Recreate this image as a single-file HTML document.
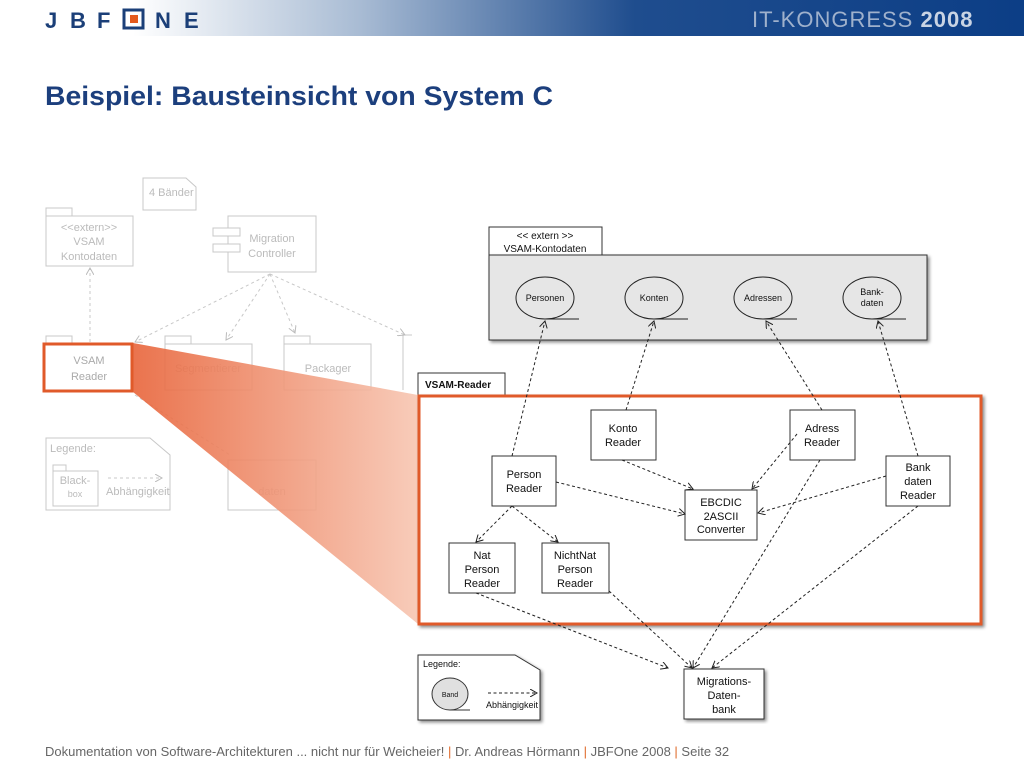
<!DOCTYPE html>
<html><head><meta charset="utf-8"><style>
body{margin:0;width:1024px;height:768px;background:#fff;overflow:hidden;font-family:"Liberation Sans",Arial,sans-serif;position:relative}
</style></head><body>
<svg width="1024" height="768" viewBox="0 0 1024 768" xmlns="http://www.w3.org/2000/svg" style="position:absolute;left:0;top:0;font-family:'Liberation Sans',Arial,sans-serif">
<defs>
<linearGradient id="hdr" x1="0" x2="1" y1="0" y2="0">
<stop offset="0" stop-color="#fff"/><stop offset="0.13" stop-color="#fff"/><stop offset="0.35" stop-color="#a9bcd4"/><stop offset="0.62" stop-color="#1f4d8e"/><stop offset="1" stop-color="#0c3e86"/>
</linearGradient>
<linearGradient id="fan" x1="0" x2="1" y1="0" y2="0">
<stop offset="0" stop-color="#e8643a"/><stop offset="1" stop-color="#f7c6b2"/>
</linearGradient>
<marker id="ar" markerWidth="8" markerHeight="8" refX="7" refY="4" orient="auto" markerUnits="userSpaceOnUse"><path d="M0,0 L7,4 L0,8" fill="none" stroke="#222" stroke-width="1"/></marker>
<marker id="arg" markerWidth="8" markerHeight="8" refX="7" refY="4" orient="auto" markerUnits="userSpaceOnUse"><path d="M0,0 L7,4 L0,8" fill="none" stroke="#bbb" stroke-width="1"/></marker>
<filter id="sh"><feDropShadow dx="2" dy="2" stdDeviation="1.5" flood-color="#000" flood-opacity="0.45"/></filter>
</defs>
<rect x="0" y="0" width="1024" height="36" fill="url(#hdr)"/>
<g font-size="22" font-weight="bold" fill="#1b3f78">
<text x="45" y="28">J</text><text x="70" y="28">B</text><text x="97" y="28">F</text>
<text x="155" y="28">N</text><text x="184" y="28">E</text>
</g>
<rect x="124" y="10" width="19" height="18" fill="none" stroke="#1b3f78" stroke-width="3"/><rect x="130" y="15" width="8" height="8" fill="#e55a1c"/>
<text x="752" y="27" font-size="22" fill="#9fb1cc" letter-spacing="1">IT-KONGRESS <tspan font-weight="bold" fill="#c9d4e4">2008</tspan></text>
<text x="45" y="105" font-size="27" font-weight="bold" fill="#1c3f7d" textLength="508" lengthAdjust="spacingAndGlyphs">Beispiel: Bausteinsicht von System C</text>

<!-- faded left diagram -->
<g stroke="#c8c8c8" fill="#fff" font-size="11" stroke-width="1">
<path d="M143,178 H186 L196,187 V210 H143 Z"/><text x="149" y="196" fill="#bbb" stroke="none">4 Bänder</text>
<rect x="46" y="208" width="26" height="8"/><rect x="46" y="216" width="87" height="50"/>
<text x="89" y="231" fill="#bbb" stroke="none" text-anchor="middle">&lt;&lt;extern&gt;&gt;</text>
<text x="89" y="245" fill="#bbb" stroke="none" text-anchor="middle">VSAM</text>
<text x="89" y="260" fill="#bbb" stroke="none" text-anchor="middle">Kontodaten</text>
<rect x="228" y="216" width="88" height="56"/><rect x="213" y="228" width="27" height="8"/><rect x="213" y="244" width="27" height="8"/>
<text x="272" y="242" fill="#bbb" stroke="none" text-anchor="middle">Migration</text>
<text x="272" y="257" fill="#bbb" stroke="none" text-anchor="middle">Controller</text>
<rect x="165" y="336" width="26" height="8"/><rect x="165" y="344" width="87" height="46"/><text x="208" y="372" fill="#bbb" stroke="none" text-anchor="middle">Segmentierer</text>
<rect x="284" y="336" width="26" height="8"/><rect x="284" y="344" width="87" height="46"/><text x="328" y="372" fill="#bbb" stroke="none" text-anchor="middle">Packager</text>
<path d="M403,335 H412 M403,335 V390"/>
<rect x="46" y="336" width="26" height="8"/>
<rect x="228" y="460" width="88" height="50"/><text x="272" y="495" fill="#bbb" stroke="none" text-anchor="middle">daten</text>
<path d="M46,438 H150 L170,455 V510 H46 Z"/><text x="50" y="452" fill="#bbb" stroke="none">Legende:</text>
<rect x="53" y="465" width="13" height="6"/><rect x="53" y="471" width="45" height="35"/>
<text x="75" y="484" fill="#bbb" stroke="none" text-anchor="middle">Black-</text><text x="75" y="497" fill="#bbb" stroke="none" text-anchor="middle" font-size="9">box</text>
<text x="106" y="495" fill="#bbb" stroke="none">Abhängigkeit</text>
<g stroke-dasharray="3,3" fill="none">
<line x1="108" y1="478" x2="162" y2="478" marker-end="url(#arg)"/>
<line x1="90" y1="342" x2="90" y2="268" marker-end="url(#arg)"/>
<line x1="270" y1="274" x2="135" y2="342" marker-end="url(#arg)"/>
<line x1="270" y1="274" x2="226" y2="340" marker-end="url(#arg)"/>
<line x1="270" y1="274" x2="295" y2="333" marker-end="url(#arg)"/>
<line x1="270" y1="274" x2="405" y2="335" marker-end="url(#arg)"/>
<line x1="135" y1="395" x2="230" y2="455"/>
</g>
</g>
<polygon points="133,343 418,395 418,624 133,392" fill="url(#fan)" opacity="0.9"/>
<rect x="44" y="344" width="88" height="47" fill="#fff" stroke="#e05a2a" stroke-width="3"/>
<text x="89" y="364" font-size="11" fill="#aaa" text-anchor="middle">VSAM</text>
<text x="89" y="380" font-size="11" fill="#aaa" text-anchor="middle">Reader</text>

<!-- right diagram -->
<g font-size="10" fill="#111">
<rect x="489" y="227" width="113" height="28" fill="#fff" stroke="#333"/>
<text x="545" y="239" text-anchor="middle">&lt;&lt; extern &gt;&gt;</text>
<text x="545" y="252" text-anchor="middle">VSAM-Kontodaten</text>
<rect x="489" y="255" width="438" height="85" fill="#e6e6e6" stroke="#333" filter="url(#sh)"/>
<g stroke="#222" fill="none">
<ellipse cx="545" cy="298" rx="29" ry="21"/><line x1="545" y1="319" x2="579" y2="319"/>
<ellipse cx="654" cy="298" rx="29" ry="21"/><line x1="654" y1="319" x2="688" y2="319"/>
<ellipse cx="763" cy="298" rx="29" ry="21"/><line x1="763" y1="319" x2="797" y2="319"/>
<ellipse cx="872" cy="298" rx="29" ry="21"/><line x1="872" y1="319" x2="906" y2="319"/>
</g>
<text x="545" y="301" text-anchor="middle" font-size="9">Personen</text>
<text x="654" y="301" text-anchor="middle" font-size="9">Konten</text>
<text x="763" y="301" text-anchor="middle" font-size="9">Adressen</text>
<text x="872" y="295" text-anchor="middle" font-size="9">Bank-</text><text x="872" y="306" text-anchor="middle" font-size="9">daten</text>

<rect x="418" y="373" width="87" height="22" fill="#fff" stroke="#333"/>
<text x="425" y="388" font-weight="bold" font-size="10">VSAM-Reader</text>
<rect x="419" y="396" width="562" height="228" fill="#fff" stroke="#e05a2a" stroke-width="3" filter="url(#sh)"/>

<g fill="#fff" stroke="#333">
<rect x="591" y="410" width="65" height="50"/>
<rect x="790" y="410" width="65" height="50"/>
<rect x="492" y="456" width="64" height="50"/>
<rect x="886" y="456" width="64" height="50"/>
<rect x="685" y="490" width="72" height="50"/>
<rect x="449" y="543" width="66" height="50"/>
<rect x="542" y="543" width="67" height="50"/>
<rect x="684" y="669" width="80" height="50" filter="url(#sh)"/>
<path d="M418,655 H515 L540,670 V720 H418 Z" filter="url(#sh)"/>
</g>
<g font-size="11" text-anchor="middle">
<text x="623" y="432">Konto</text><text x="623" y="446">Reader</text>
<text x="822" y="432">Adress</text><text x="822" y="446">Reader</text>
<text x="524" y="478">Person</text><text x="524" y="492">Reader</text>
<text x="918" y="471">Bank</text><text x="918" y="485">daten</text><text x="918" y="499">Reader</text>
<text x="721" y="506">EBCDIC</text><text x="721" y="520">2ASCII</text><text x="721" y="533">Converter</text>
<text x="482" y="559">Nat</text><text x="482" y="573">Person</text><text x="482" y="587">Reader</text>
<text x="575" y="559">NichtNat</text><text x="575" y="573">Person</text><text x="575" y="587">Reader</text>
<text x="724" y="685">Migrations-</text><text x="724" y="699">Daten-</text><text x="724" y="713">bank</text>
</g>
<text x="423" y="667" font-size="9">Legende:</text>
<ellipse cx="450" cy="694" rx="18" ry="16" fill="#e0e0e0" stroke="#333"/><line x1="450" y1="710" x2="470" y2="710" stroke="#333"/>
<text x="450" y="697" font-size="7" text-anchor="middle">Band</text>
<text x="486" y="708" font-size="9">Abhängigkeit</text>
<g stroke="#222" stroke-dasharray="3,2.5" fill="none">
<line x1="488" y1="693" x2="537" y2="693" marker-end="url(#ar)"/>
<line x1="512" y1="456" x2="545" y2="321" marker-end="url(#ar)"/>
<line x1="626" y1="410" x2="654" y2="321" marker-end="url(#ar)"/>
<line x1="822" y1="410" x2="766" y2="321" marker-end="url(#ar)"/>
<line x1="918" y1="456" x2="878" y2="321" marker-end="url(#ar)"/>
<line x1="622" y1="460" x2="693" y2="489" marker-end="url(#ar)"/>
<line x1="797" y1="434" x2="752" y2="489" marker-end="url(#ar)"/>
<line x1="556" y1="482" x2="685" y2="514" marker-end="url(#ar)"/>
<line x1="886" y1="476" x2="758" y2="513" marker-end="url(#ar)"/>
<line x1="820" y1="460" x2="693" y2="668" marker-end="url(#ar)"/>
<line x1="918" y1="506" x2="712" y2="668" marker-end="url(#ar)"/>
<line x1="512" y1="506" x2="476" y2="542" marker-end="url(#ar)"/>
<line x1="512" y1="506" x2="558" y2="542" marker-end="url(#ar)"/>
<line x1="476" y1="593" x2="668" y2="668" marker-end="url(#ar)"/>
<line x1="609" y1="591" x2="692" y2="668" marker-end="url(#ar)"/>
</g>
</g>
<text x="45" y="756" font-size="13" fill="#666">Dokumentation von Software-Architekturen ... nicht nur für Weicheier! <tspan fill="#e06a2a">|</tspan> Dr. Andreas Hörmann <tspan fill="#e06a2a">|</tspan> JBFOne 2008 <tspan fill="#e06a2a">|</tspan> Seite 32</text>
</svg>
</body></html>
